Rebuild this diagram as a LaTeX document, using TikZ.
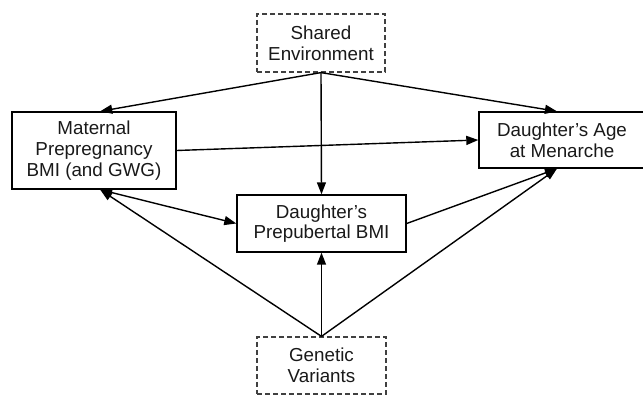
\documentclass[tikz,border=0pt]{standalone}
\usepackage{fontspec}
\setmainfont{Liberation Sans}
\usetikzlibrary{arrows.meta}

\begin{document}
\begin{tikzpicture}[
  x=1pt,y=-1pt,
  box/.style={draw,line width=1.4pt,align=center,inner sep=0pt,text=black!90,
    font=\fontsize{18.8}{20.7}\selectfont},
  latent/.style={box,dashed,line width=1.2pt,dash pattern=on 5pt off 3pt,draw=black!75},
  arr/.style={-{Triangle[length=12pt,width=9pt]},line width=1.4pt},
  darr/.style={{Triangle[length=12pt,width=9pt]}-{Triangle[length=12pt,width=9pt]},line width=1.4pt}
]
\useasboundingbox (0,0) rectangle (643,395);
% unobserved sources
\node[latent,minimum width=128,minimum height=58] (env) at (321,43) {Shared\\Environment};
\node[latent,minimum width=129,minimum height=57] (gen) at (321.5,365.5) {Genetic\\Variants};
% observed measures
\node[box,minimum width=164,minimum height=77] (mat) at (94,150.5) {Maternal\\Prepregnancy\\BMI (and GWG)};
\node[box,minimum width=169,minimum height=57] (pre) at (321.5,223.5) {Daughter’s\\Prepubertal BMI};
\node[box,minimum width=166,minimum height=56] (age) at (562,140) {Daughter’s Age\\at Menarche};
% paths
\draw[arr] (env.south) -- (mat.81);
\draw[arr] (env.south) -- (pre.north);
\draw[arr] (env.south) -- (age.100);
\draw[arr] (mat.east) -- (age.west);
\draw[darr] (mat.-81) -- (pre.west);
\draw[arr] (pre.east) -- (age.-100);
\draw[arr] (gen.north) -- (mat.-81);
\draw[arr] (gen.north) -- (pre.south);
\draw[arr] (gen.north) -- (age.-100);
\end{tikzpicture}
\end{document}
